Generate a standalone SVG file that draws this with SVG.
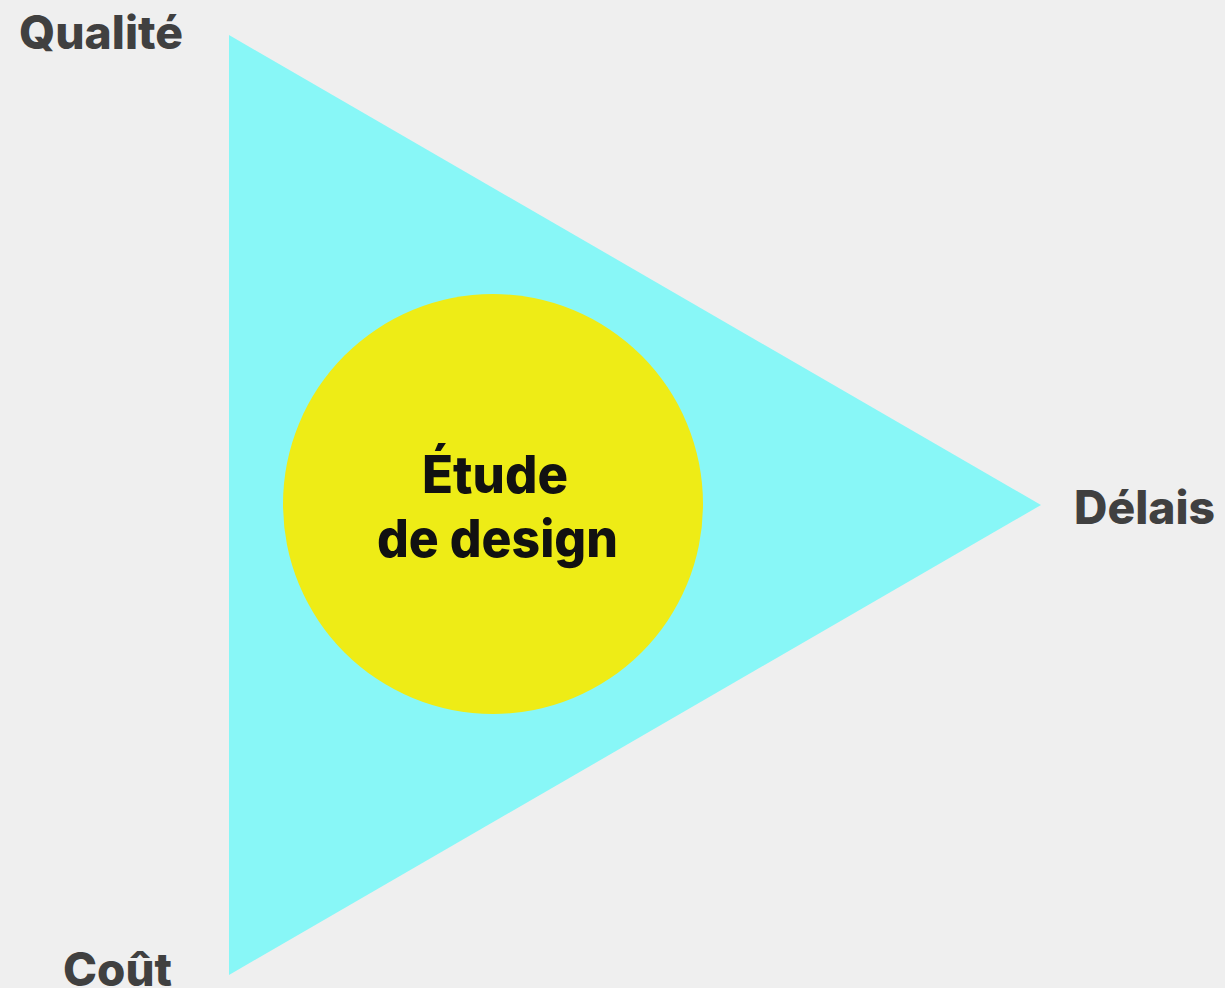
<svg xmlns="http://www.w3.org/2000/svg" width="1225" height="988" viewBox="0 0 1225 988">
<style>
.lbl{font-family:Inter,"Liberation Sans",Arial,sans-serif;font-weight:800;font-size:46px;fill:#404040}
.ctr{font-family:Inter,"Liberation Sans",Arial,sans-serif;font-weight:800;font-size:52px;fill:#111111}
</style>
<rect width="1225" height="988" fill="#efefef"/>
<g id="triangle"><polygon points="229,35 1041,505 229,975" fill="#88f7f7"/></g>
<g id="circle"><circle cx="493" cy="504" r="210" fill="#eeec16"/>
<text class="ctr" x="422" y="493" textLength="146" lengthAdjust="spacingAndGlyphs">Étude</text>
<text class="ctr" x="377" y="557" textLength="241" lengthAdjust="spacingAndGlyphs">de design</text></g>
<g id="qualite"><text class="lbl" x="19" y="49" textLength="164" lengthAdjust="spacingAndGlyphs">Qualité</text></g>
<g id="delais"><text class="lbl" x="1074" y="524" textLength="141" lengthAdjust="spacingAndGlyphs">Délais</text></g>
<g id="cout"><text class="lbl" x="63" y="986" textLength="109" lengthAdjust="spacingAndGlyphs">Coût</text></g>
<g id="connectors"/>
</svg>
